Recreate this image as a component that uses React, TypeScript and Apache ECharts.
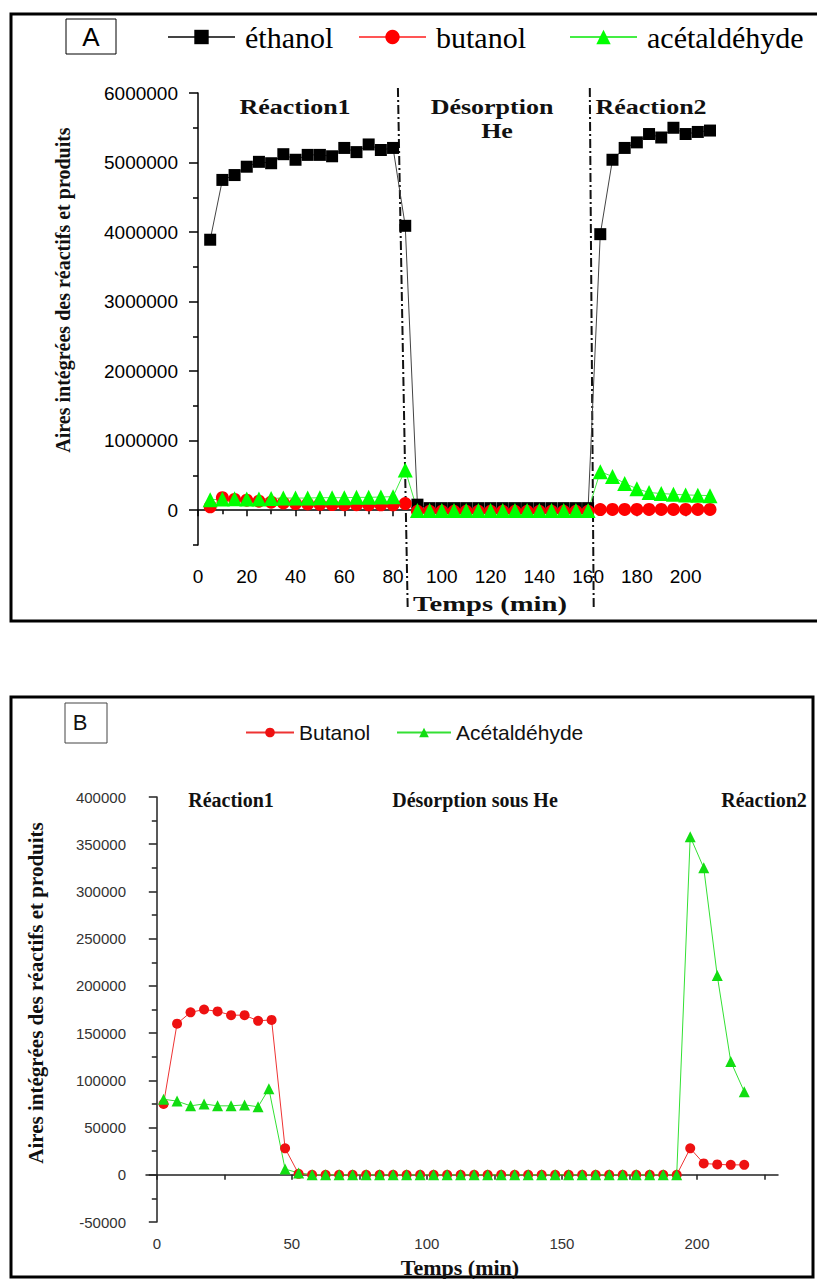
import React, { useEffect, useRef } from 'react';
import * as echarts from 'echarts';

// ---------- Chart A data (time in min) ----------
const timesA = [5, 10, 15, 20, 25, 30, 35, 40, 45, 50, 55, 60, 65, 70, 75, 80, 85,
  90, 95, 100, 105, 110, 115, 120, 125, 130, 135, 140, 145, 150, 155, 160,
  165, 170, 175, 180, 185, 190, 195, 200, 205, 210];
const ethanolA = [3890000, 4750000, 4820000, 4940000, 5010000, 4990000, 5120000, 5040000, 5110000, 5110000, 5090000, 5210000, 5150000, 5260000, 5180000, 5210000, 4090000,
  80000, 30000, 30000, 30000, 30000, 30000, 30000, 30000, 30000, 30000, 30000, 30000, 30000, 30000, 30000,
  3970000, 5040000, 5210000, 5290000, 5410000, 5360000, 5500000, 5410000, 5440000, 5460000];
const butanolA = [50000, 180000, 155000, 145000, 130000, 115000, 105000, 95000, 90000, 85000, 82000, 80000, 80000, 78000, 78000, 78000, 95000,
  -15000, -15000, -15000, -15000, -15000, -15000, -15000, -15000, -15000, -15000, -15000, -15000, -15000, -15000, -15000,
  10000, 12000, 12000, 12000, 12000, 12000, 12000, 12000, 12000, 12000];
const acetA = [150000, 160000, 165000, 160000, 160000, 170000, 175000, 175000, 175000, 180000, 180000, 180000, 185000, 185000, 190000, 195000, 580000,
  -5000, -5000, -5000, -5000, -5000, -5000, -5000, -5000, -5000, -5000, -5000, -5000, -5000, -5000, -5000,
  555000, 485000, 385000, 310000, 255000, 240000, 230000, 220000, 215000, 210000];

const xLabelsA = [0, 20, 40, 60, 80, 100, 120, 140, 160, 180, 200];
const xMinorA = [10, 30, 50, 70, 90, 110, 130, 150, 170, 190, 210];
const yLabelsA = [0, 1000000, 2000000, 3000000, 4000000, 5000000, 6000000];
const yMinorA = [-500000, 500000, 1500000, 2500000, 3500000, 4500000, 5500000];

// dash-dot separators (time, value) start / end
const dividerA1 = [[82, 6072000], [86, -1400000]];
const dividerA2 = [[160.7, 6072000], [162.3, -1400000]];

// ---------- Chart B data ----------
const timesB = [2.5, 7.5, 12.5, 17.5, 22.5, 27.5, 32.5, 37.5, 42.5, 47.5,
  52.5, 57.5, 62.5, 67.5, 72.5, 77.5, 82.5, 87.5, 92.5, 97.5, 102.5, 107.5, 112.5, 117.5, 122.5,
  127.5, 132.5, 137.5, 142.5, 147.5, 152.5, 157.5, 162.5, 167.5, 172.5, 177.5, 182.5, 187.5, 192.5,
  197.5, 202.5, 207.5, 212.5, 217.5];
const butanolB = [75000, 160000, 172000, 175000, 173000, 169000, 169000, 163000, 164000, 28000,
  1000, 0, 0, 0, 0, 0, 0, 0, 0, 0, 0, 0, 0, 0, 0,
  0, 0, 0, 0, 0, 0, 0, 0, 0, 0, 0, 0, 0, 0,
  28000, 12000, 11000, 10500, 10500];
const acetTimesB = [2.5, 7.5, 12.5, 17.5, 22.5, 27.5, 32.5, 37.5, 41.5, 47.5,
  52.5, 57.5, 62.5, 67.5, 72.5, 77.5, 82.5, 87.5, 92.5, 97.5, 102.5, 107.5, 112.5, 117.5, 122.5,
  127.5, 132.5, 137.5, 142.5, 147.5, 152.5, 157.5, 162.5, 167.5, 172.5, 177.5, 182.5, 187.5, 192.5,
  197.5, 202.5, 207.5, 212.5, 217.5];
const acetB = [80000, 78000, 73000, 75000, 73000, 73000, 74000, 72000, 91000, 6000,
  2000, 0, 0, 0, 0, 0, 0, 0, 0, 0, 0, 0, 0, 0, 0,
  0, 0, 0, 0, 0, 0, 0, 0, 0, 0, 0, 0, 0, 0,
  358000, 325000, 211000, 120000, 88000];

const xLabelsB = [0, 50, 100, 150, 200];
const xTicksB = [0, 25, 50, 75, 100, 125, 150, 175, 200, 225];

const yTitle = 'Aires intégrées des réactifs et produits';

const zip = (xs: number[], ys: number[]) => xs.map((x, i) => [x, ys[i]]);

const SERIF = '"Liberation Serif", "Times New Roman", serif';
const SANS = '"Liberation Sans", Arial, sans-serif';

export default function App() {
  const ref = useRef<HTMLDivElement>(null);
  useEffect(() => {
    if (!ref.current) return;
    const chart = echarts.init(ref.current, undefined, { renderer: 'svg' });
    const blackTick = { color: '#000', width: 1.5 };
    const grayTick = { color: '#222', width: 1.5 };
    const legendA = (name: string, left: number) => ({
      data: [name], left, top: 22, padding: 0, itemWidth: 67, itemHeight: 18,
      textStyle: { fontFamily: SERIF, fontSize: 30, color: '#000', padding: [0, 0, 0, 5] },
    });
    const legendB = (name: string, left: number, w: number) => ({
      data: [name], left, top: 722, padding: 0, itemWidth: w, itemHeight: 12,
      textStyle: { fontFamily: SANS, fontSize: 21, color: '#111' },
    });
    const label = (text: string, x: number, y: number, font: string, scaleX = 1) => ({
      type: 'text', x, y, scaleX, style: { text, font, fill: '#111', align: 'center', verticalAlign: 'middle' },
    });
    const option: any = {
      animation: false,
      backgroundColor: '#fff',
      grid: [
        { left: 198, top: 93, width: 512, height: 452 },
        { left: 146, top: 797, width: 632, height: 425 },
      ],
      xAxis: [
        {
          type: 'value', gridIndex: 0, min: 0, max: 210, position: 'bottom',
          axisLine: { lineStyle: blackTick },
          axisTick: { customValues: xLabelsA, length: 6, lineStyle: blackTick },
          axisLabel: { customValues: xLabelsA, margin: 22, fontSize: 19, fontFamily: SANS, color: '#000' },
          splitLine: { show: false },
        },
        {
          type: 'value', gridIndex: 0, min: 0, max: 210, position: 'bottom',
          axisLine: { show: false },
          axisTick: { customValues: xMinorA, length: 4, lineStyle: blackTick },
          axisLabel: { show: false },
          splitLine: { show: false },
        },
        {
          type: 'value', gridIndex: 1, min: -4, max: 230, position: 'bottom',
          axisLine: { lineStyle: grayTick },
          axisTick: { customValues: xTicksB, length: 5, lineStyle: grayTick },
          axisLabel: { customValues: xLabelsB, margin: 14, fontSize: 15, fontFamily: SANS, color: '#333' },
          splitLine: { show: false },
        },
      ],
      yAxis: [
        {
          type: 'value', gridIndex: 0, min: -500000, max: 6000000, position: 'left',
          axisLine: { show: true, lineStyle: blackTick },
          axisTick: { customValues: yLabelsA, length: 9, lineStyle: blackTick },
          axisLabel: { customValues: yLabelsA, margin: 20, fontSize: 19, fontFamily: SANS, color: '#000', formatter: (v: number) => String(v) },
          splitLine: { show: false },
        },
        {
          type: 'value', gridIndex: 0, min: -500000, max: 6000000, position: 'left',
          axisLine: { show: false },
          axisTick: { customValues: yMinorA, length: 5, lineStyle: blackTick },
          axisLabel: { show: false },
          splitLine: { show: false },
        },
        {
          type: 'value', gridIndex: 1, min: -50000, max: 400000, interval: 50000, position: 'left',
          axisLine: { show: true, lineStyle: grayTick },
          axisTick: { length: 8, lineStyle: grayTick },
          minorTick: { show: true, splitNumber: 2, length: 5, lineStyle: grayTick },
          axisLabel: { margin: 20, fontSize: 15, fontFamily: SANS, color: '#333', formatter: (v: number) => String(v) },
          splitLine: { show: false },
        },
      ],
      legend: [
        legendA('éthanol', 167),
        legendA('butanol', 358),
        legendA('acétaldéhyde', 569),
        legendB('Butanol', 245, 48),
        legendB('Acétaldéhyde', 396, 54),
      ],
      series: [
        {
          name: 'sepA1', type: 'line', xAxisIndex: 0, yAxisIndex: 0, data: dividerA1, symbol: 'none', clip: false, silent: true,
          lineStyle: { color: '#111', width: 2, type: [9, 3, 2, 3] }, z: 1,
        },
        {
          name: 'sepA2', type: 'line', xAxisIndex: 0, yAxisIndex: 0, data: dividerA2, symbol: 'none', clip: false, silent: true,
          lineStyle: { color: '#111', width: 2, type: [9, 3, 2, 3] }, z: 1,
        },
        {
          name: 'éthanol', type: 'line', xAxisIndex: 0, yAxisIndex: 0, data: zip(timesA, ethanolA),
          symbol: 'rect', symbolSize: 12, itemStyle: { color: '#000' }, lineStyle: { color: '#444', width: 1 },
        },
        {
          name: 'butanol', type: 'line', xAxisIndex: 0, yAxisIndex: 0, data: zip(timesA, butanolA),
          symbol: 'circle', symbolSize: 13, itemStyle: { color: '#ff0000' }, lineStyle: { color: '#ff5555', width: 1 },
        },
        {
          name: 'acétaldéhyde', type: 'line', xAxisIndex: 0, yAxisIndex: 0, data: zip(timesA, acetA),
          symbol: 'triangle', symbolSize: 15, itemStyle: { color: '#00ff00' }, lineStyle: { color: '#44ee44', width: 1 },
        },
        {
          name: 'Butanol', type: 'line', xAxisIndex: 2, yAxisIndex: 2, data: zip(timesB, butanolB),
          symbol: 'circle', symbolSize: 10, itemStyle: { color: '#ee1111' }, lineStyle: { color: '#ee3333', width: 1 },
        },
        {
          name: 'Acétaldéhyde', type: 'line', xAxisIndex: 2, yAxisIndex: 2, data: zip(acetTimesB, acetB),
          symbol: 'triangle', symbolSize: 11, itemStyle: { color: '#11dd11' }, lineStyle: { color: '#33e033', width: 1 },
        },
      ],
      graphic: [
        // frame A
        { type: 'rect', shape: { x: 11, y: 14, width: 830, height: 607 }, style: { fill: 'none', stroke: '#000', lineWidth: 3 }, silent: true },
        { type: 'rect', shape: { x: 66, y: 19, width: 50, height: 35 }, style: { fill: '#fff', stroke: '#000', lineWidth: 1 }, silent: true },
        { type: 'text', x: 91, y: 37, style: { text: 'A', font: `26px ${SANS}`, fill: '#000', align: 'center', verticalAlign: 'middle' } },
        label('Réaction1', 295, 107, `bold 20px ${SERIF}`, 1.3),
        label('Désorption', 492, 107, `bold 20px ${SERIF}`, 1.3),
        label('He', 497, 131, `bold 20px ${SERIF}`, 1.3),
        label('Réaction2', 651, 107, `bold 20px ${SERIF}`, 1.3),
        label('Temps (min)', 490, 604, `bold 22px ${SERIF}`, 1.3),
        { type: 'text', x: 63, y: 290, rotation: Math.PI / 2, style: { text: yTitle, font: `bold 20px ${SERIF}`, fill: '#111', align: 'center', verticalAlign: 'middle' } },
        // frame B
        { type: 'rect', shape: { x: 11, y: 697, width: 802, height: 580 }, style: { fill: 'none', stroke: '#000', lineWidth: 3 }, silent: true },
        { type: 'rect', shape: { x: 65, y: 703, width: 42, height: 40 }, style: { fill: '#fff', stroke: '#444', lineWidth: 1 }, silent: true },
        { type: 'text', x: 80, y: 722, style: { text: 'B', font: `22px ${SANS}`, fill: '#111', align: 'center', verticalAlign: 'middle' } },
        label('Réaction1', 231, 800, `bold 20px ${SERIF}`),
        label('Désorption sous He', 475, 800, `bold 20px ${SERIF}`),
        label('Réaction2', 764, 800, `bold 20px ${SERIF}`),
        label('Temps (min)', 460, 1267, `bold 22px ${SERIF}`),
        { type: 'text', x: 36, y: 993, rotation: Math.PI / 2, style: { text: yTitle, font: `bold 21px ${SERIF}`, fill: '#111', align: 'center', verticalAlign: 'middle' } },
      ],
    };
    chart.setOption(option);
    return () => chart.dispose();
  }, []);
  return (
    <div
      ref={ref}
      style={{ position: 'absolute', left: 0, top: 0, width: 817, height: 1279, background: '#fff' }}
    />
  );
}
